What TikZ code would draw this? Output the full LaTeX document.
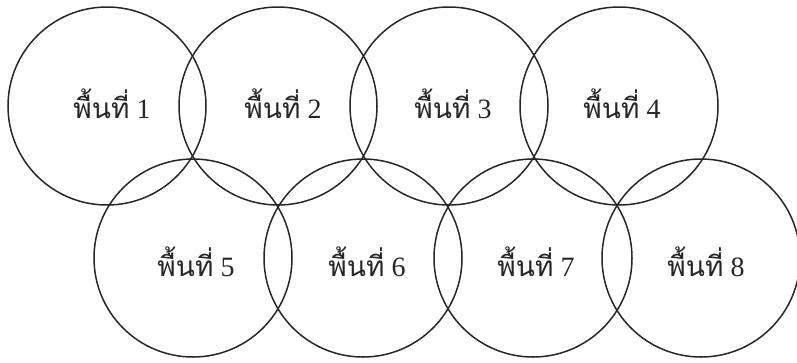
\documentclass[tikz,border=0pt]{standalone}
\usepackage{fontspec}
\setmainfont{Liberation Serif}
\newfontfamily\thaifont[Script=Thai]{Loma}
\begin{document}
\begin{tikzpicture}[x=1pt,y=-1pt,
  area/.style={circle,draw=black!85,line width=1.5pt,minimum size=198pt,inner sep=0pt},
  lbl/.style={font=\fontsize{28}{30}\selectfont,text=black!85}]
\useasboundingbox (0,0) rectangle (797,362);
\node[area] (c1) at (107,106) {};
\node[area] (c2) at (278,106) {};
\node[area] (c3) at (449,106) {};
\node[area] (c4) at (619,106) {};
\node[area] (c5) at (193,258) {};
\node[area] (c6) at (363,258) {};
\node[area] (c7) at (533,258) {};
\node[area] (c8) at (701,258) {};
\foreach \i/\x/\y in {1/112/104,2/283/104,3/453/104,4/622/104,5/196/262,6/367/262,7/536/262,8/706/262}{
  \node[lbl] (t\i) at (\x,\y) {{\thaifont พื้นที่} \i};
}
\end{tikzpicture}
\end{document}
